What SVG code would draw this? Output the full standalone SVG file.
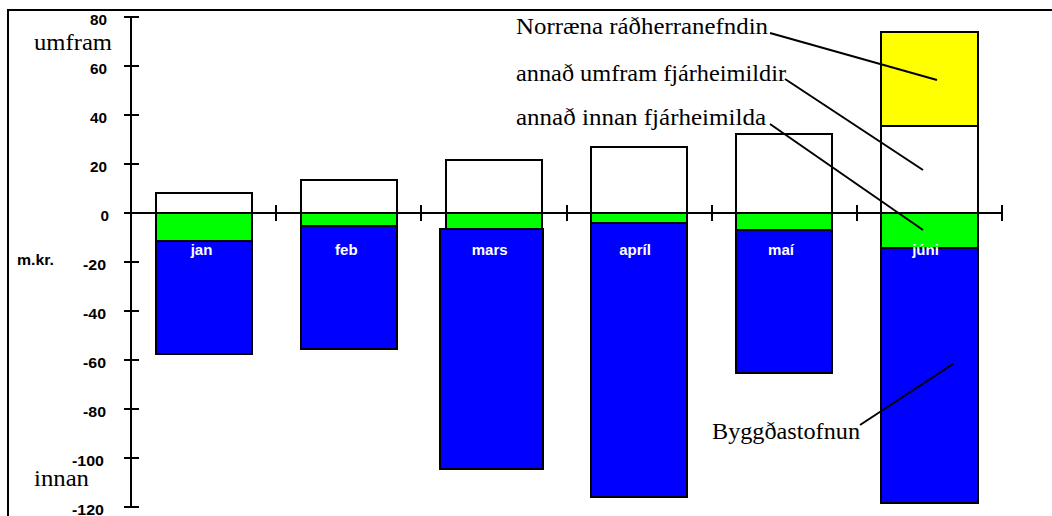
<svg xmlns="http://www.w3.org/2000/svg" width="1052" height="516" viewBox="0 0 1052 516">
<style>
.ax{stroke:#000;stroke-width:2;fill:none}
.bar{stroke:#000;stroke-width:2}
.w{fill:#fff}
.g{fill:#00ff00}
.b{fill:#0000ff}
.y{fill:#ffff00}
.num{font-family:"Liberation Sans",Arial,sans-serif;font-weight:bold;font-size:14.5px;fill:#000}
.mon{font-family:"Liberation Sans",Arial,sans-serif;font-weight:bold;font-size:15px;fill:#fff;text-anchor:middle}
.ser{font-family:"Liberation Serif","Times New Roman",serif;font-size:24px;fill:#000}
.ld{stroke:#000;stroke-width:2;fill:none}
</style>
<rect width="1052" height="516" fill="#fff"/>
<g id="frame">
<path class="ax" d="M8,516 V10 H1052"/>
</g>
<g id="y-axis">
<path class="ax" d="M131,17 V507 M124,17 H139 M124,66 H139 M124,115 H139 M124,164 H139 M124,213 H139 M124,262 H139 M124,311 H139 M124,360 H139 M124,409 H139 M124,458 H139 M124,507 H139"/>
<text class="num" x="90" y="25" textLength="17" lengthAdjust="spacingAndGlyphs">80</text>
<text class="num" x="90" y="74" textLength="17" lengthAdjust="spacingAndGlyphs">60</text>
<text class="num" x="90" y="123" textLength="17" lengthAdjust="spacingAndGlyphs">40</text>
<text class="num" x="90" y="172" textLength="17" lengthAdjust="spacingAndGlyphs">20</text>
<text class="num" x="100.5" y="221" textLength="8.5" lengthAdjust="spacingAndGlyphs">0</text>
<text class="num" x="83" y="270" textLength="23" lengthAdjust="spacingAndGlyphs">-20</text>
<text class="num" x="83" y="319" textLength="23" lengthAdjust="spacingAndGlyphs">-40</text>
<text class="num" x="83" y="368" textLength="23" lengthAdjust="spacingAndGlyphs">-60</text>
<text class="num" x="83" y="417" textLength="23" lengthAdjust="spacingAndGlyphs">-80</text>
<text class="num" x="72" y="466" textLength="32" lengthAdjust="spacingAndGlyphs">-100</text>
<text class="num" x="72" y="515" textLength="32" lengthAdjust="spacingAndGlyphs">-120</text>
<text class="num" x="17" y="265" textLength="37" lengthAdjust="spacingAndGlyphs">m.kr.</text>
<text class="ser" x="34" y="50" textLength="78" lengthAdjust="spacingAndGlyphs">umfram</text>
<text class="ser" x="34" y="486" textLength="55" lengthAdjust="spacingAndGlyphs">innan</text>
</g>
<g id="bar-jan">
<rect class="bar w" x="156" y="193" width="96" height="20"/>
<rect class="bar g" x="156" y="213" width="96" height="28"/>
<rect class="bar b" x="156" y="241" width="96" height="113"/>
</g>
<g id="bar-feb">
<rect class="bar w" x="301" y="180" width="96" height="33"/>
<rect class="bar g" x="301" y="213" width="96" height="13"/>
<rect class="bar b" x="301" y="226" width="96" height="123"/>
</g>
<g id="bar-mars">
<rect class="bar w" x="446" y="160" width="96" height="53"/>
<rect class="bar g" x="446" y="213" width="96" height="16"/>
<rect class="bar b" x="440" y="229" width="103" height="240"/>
</g>
<g id="bar-april">
<rect class="bar w" x="591" y="147" width="96" height="66"/>
<rect class="bar g" x="591" y="213" width="96" height="10"/>
<rect class="bar b" x="591" y="223" width="96" height="274"/>
</g>
<g id="bar-mai">
<rect class="bar w" x="736" y="134" width="96" height="79"/>
<rect class="bar g" x="736" y="213" width="96" height="17"/>
<rect class="bar b" x="736" y="230" width="96" height="143"/>
</g>
<g id="bar-juni">
<rect class="bar y" x="881" y="32" width="97" height="94"/>
<rect class="bar w" x="881" y="126" width="97" height="87"/>
<rect class="bar g" x="881" y="213" width="97" height="35"/>
<rect class="bar b" x="881" y="248" width="97" height="255"/>
</g>
<g id="x-axis">
<path class="ax" d="M124,213 H1002 M276,205 V221 M421,205 V221 M567,205 V221 M712,205 V221 M857,205 V221 M1002,205 V221"/>
</g>
<g id="month-labels">
<text class="mon" x="201.5" y="255">jan</text>
<text class="mon" x="346.3" y="255">feb</text>
<text class="mon" x="489.7" y="255">mars</text>
<text class="mon" x="635" y="255">apríl</text>
<text class="mon" x="781" y="255">maí</text>
<text class="mon" x="925.5" y="255">júni</text>
</g>
<g id="legend-labels">
<text class="ser" x="516" y="34" textLength="252" lengthAdjust="spacingAndGlyphs">Norræna ráðherranefndin</text>
<text class="ser" x="516" y="81" textLength="270" lengthAdjust="spacingAndGlyphs">annað umfram fjárheimildir</text>
<text class="ser" x="516" y="125" textLength="250" lengthAdjust="spacingAndGlyphs">annað innan fjárheimilda</text>
<text class="ser" x="712" y="439" textLength="148" lengthAdjust="spacingAndGlyphs">Byggðastofnun</text>
</g>
<g id="connectors">
<path class="ld" d="M770,33 L937,80"/>
<path class="ld" d="M785,79 L923,170"/>
<path class="ld" d="M770,124 L923,230"/>
<path class="ld" d="M860,425 L953,364"/>
</g>
</svg>
